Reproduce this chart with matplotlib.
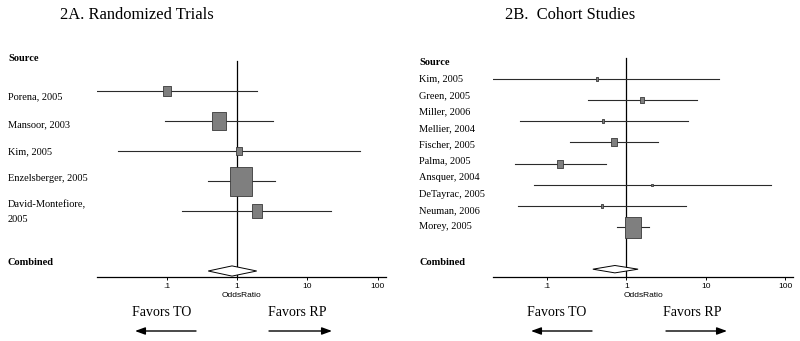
"""Forest plots: 2A randomized trials, 2B cohort studies."""
import matplotlib
matplotlib.use("Agg")
import matplotlib.pyplot as plt
import numpy as np
from matplotlib.path import Path
from matplotlib.patches import Polygon
from matplotlib.transforms import blended_transform_factory

# ---- data: panel A (randomized trials) ----
rct_labels = ["Porena, 2005", "Mansoor, 2003", "Kim, 2005", "Enzelsberger, 2005",
              "David-Montefiore,\n2005"]
rct_or = [0.102, 0.55, 1.07, 1.16, 1.91]
rct_lo = [0.0102, 0.095, 0.020, 0.39, 0.166]
rct_hi = [1.93, 3.26, 56.6, 3.47, 21.9]
rct_weight = [7.3, 22.3, 4.1, 55.0, 11.4]
rct_combined = (0.85, 0.39, 1.91)  # OR, lo, hi

# ---- data: panel B (cohort studies) ----
coh_labels = ["Kim, 2005", "Green, 2005", "Miller, 2006", "Mellier, 2004", "Fischer, 2005",
              "Palma, 2005", "Ansquer, 2004", "DeTayrac, 2005", "Neuman, 2006", "Morey, 2005"]
coh_or = [0.43, 1.58, 0.51, 0.70, 0.148, 2.1, 0.49, 1.20]
coh_lo = [0.021, 0.33, 0.046, 0.195, 0.040, 0.068, 0.043, 0.76]
coh_hi = [14.8, 7.7, 6.0, 2.5, 0.56, 66.0, 5.6, 1.91]
coh_weight = [2.2, 6.0, 2.2, 8.6, 8.6, 1.0, 2.2, 69.3]
coh_combined = (0.72, 0.38, 1.41)

tick_vals = [0.1, 1, 10, 100]
tick_text = [".1", "1", "10", "100"]

W, H = 800, 341
SERIF = "Liberation Serif"
SANS = "Liberation Sans"

# tall-ish box marker (the original boxes are stretched vertically)
box = Path([(-0.385, -0.5), (0.385, -0.5), (0.385, 0.5), (-0.385, 0.5), (-0.385, -0.5)],
           [Path.MOVETO, Path.LINETO, Path.LINETO, Path.LINETO, Path.CLOSEPOLY])

fig = plt.figure(figsize=(W / 100, H / 100), dpi=100)


def px_ax(x0, x1, ytop, ybot):
    return fig.add_axes([x0 / W, 1 - ybot / H, (x1 - x0) / W, (ybot - ytop) / H])


def forest(ax, ors, los, his, weights, comb, xlim, ylim, comb_row, hmax, dh):
    ax.set_xscale("log")
    ax.set_xlim(*xlim)
    ax.set_ylim(*ylim)
    ax.axvline(1, ymin=0, ymax=(ylim[0] - (-1.0)) / (ylim[0] - ylim[1]), color="black", lw=0.9)
    wmax = max(weights)
    for i, (o, lo, hi, w) in enumerate(zip(ors, los, his, weights)):
        ax.plot([lo, hi], [i, i], color="#2b2b2b", lw=0.8, zorder=2)
        ms = hmax * np.sqrt(w / wmax) * 0.72
        ax.plot([o], [i], marker=box, ms=ms, mfc="#7f7f7f", mec="#3a3a3a", mew=0.6,
                ls="none", zorder=3)
    o, lo, hi = comb
    ax.add_patch(Polygon([(lo, comb_row), (o, comb_row - dh), (hi, comb_row), (o, comb_row + dh)],
                         closed=True, fc="white", ec="black", lw=0.7, zorder=4))
    for s in ["top", "right", "left"]:
        ax.spines[s].set_visible(False)
    ax.spines["bottom"].set_linewidth(0.9)
    ax.set_yticks([])
    ax.set_xticks(tick_vals)
    ax.set_xticklabels(tick_text, fontsize=6, family=SANS)
    ax.minorticks_off()
    ax.tick_params(axis="x", length=2.5, width=0.7, pad=2)
    ax.set_xlabel("OddsRatio", fontsize=6, family=SANS, labelpad=1)


# ---- panel A ----
axA = px_ax(97, 386, 55, 277)
forest(axA, rct_or, rct_lo, rct_hi, rct_weight, rct_combined,
       (0.0102, 132), (6.2, -1.2), 6.0, 29, 0.17)
trA = blended_transform_factory(fig.transFigure, axA.transData)
fig.text(137 / W, 1 - 15 / H, "2A. Randomized Trials", family=SERIF, fontsize=11.9,
         ha="center", va="center")
axA.text(8 / W, -1.07, "Source", transform=trA, family=SERIF, fontsize=7.5,
         fontweight="bold", va="center")
for j, lab in enumerate(rct_labels):
    y = 0.2 + 0.91 * j
    if "\n" in lab:
        axA.text(8 / W, y - 0.22, lab, transform=trA, family=SERIF, fontsize=7.5,
                 va="top", linespacing=1.9)
    else:
        axA.text(8 / W, y, lab, transform=trA, family=SERIF, fontsize=7.5, va="center")
axA.text(8 / W, 5.73, "Combined", transform=trA, family=SERIF, fontsize=7.5,
         fontweight="bold", va="center")

# ---- panel B ----
axB = px_ax(493, 793, 55, 277)
forest(axB, coh_or, coh_lo, coh_hi, coh_weight, coh_combined,
       (0.021, 126), (9.37, -1.14), 9.0, 21, 0.175)
trB = blended_transform_factory(fig.transFigure, axB.transData)
fig.text(570 / W, 1 - 15 / H, "2B.  Cohort Studies", family=SERIF, fontsize=11.9,
         ha="center", va="center")
axB.text(419 / W, -0.8, "Source", transform=trB, family=SERIF, fontsize=7.5,
         fontweight="bold", va="center")
n_rows = len(coh_or)
step = (n_rows - 1) / (len(coh_labels) - 1)
for j, lab in enumerate(coh_labels):
    axB.text(419 / W, j * step, lab, transform=trB, family=SERIF, fontsize=7.5, va="center")
axB.text(419 / W, 8.66, "Combined", transform=trB, family=SERIF, fontsize=7.5,
         fontweight="bold", va="center")

# ---- favours captions and arrows ----
def favors(xl, xr, al, ar):
    fig.text(xl / W, 1 - 313 / H, "Favors TO", family=SERIF, fontsize=10, ha="center", va="center")
    fig.text(xr / W, 1 - 313 / H, "Favors RP", family=SERIF, fontsize=10, ha="center", va="center")
    y = 1 - 331 / H
    kw = dict(arrowstyle="-|>,head_length=0.6,head_width=0.22", color="black", lw=1.0,
              shrinkA=0, shrinkB=0)
    fig.add_artist(matplotlib.patches.FancyArrowPatch((al[0] / W, y), (al[1] / W, y),
                                                      transform=fig.transFigure,
                                                      mutation_scale=10, **kw))
    fig.add_artist(matplotlib.patches.FancyArrowPatch((ar[0] / W, y), (ar[1] / W, y),
                                                      transform=fig.transFigure,
                                                      mutation_scale=10, **kw))


favors(162, 297, (196, 135), (269, 332))
favors(557, 692, (592, 531), (666, 727))

fig.savefig("out.png", dpi=100, facecolor="white")
